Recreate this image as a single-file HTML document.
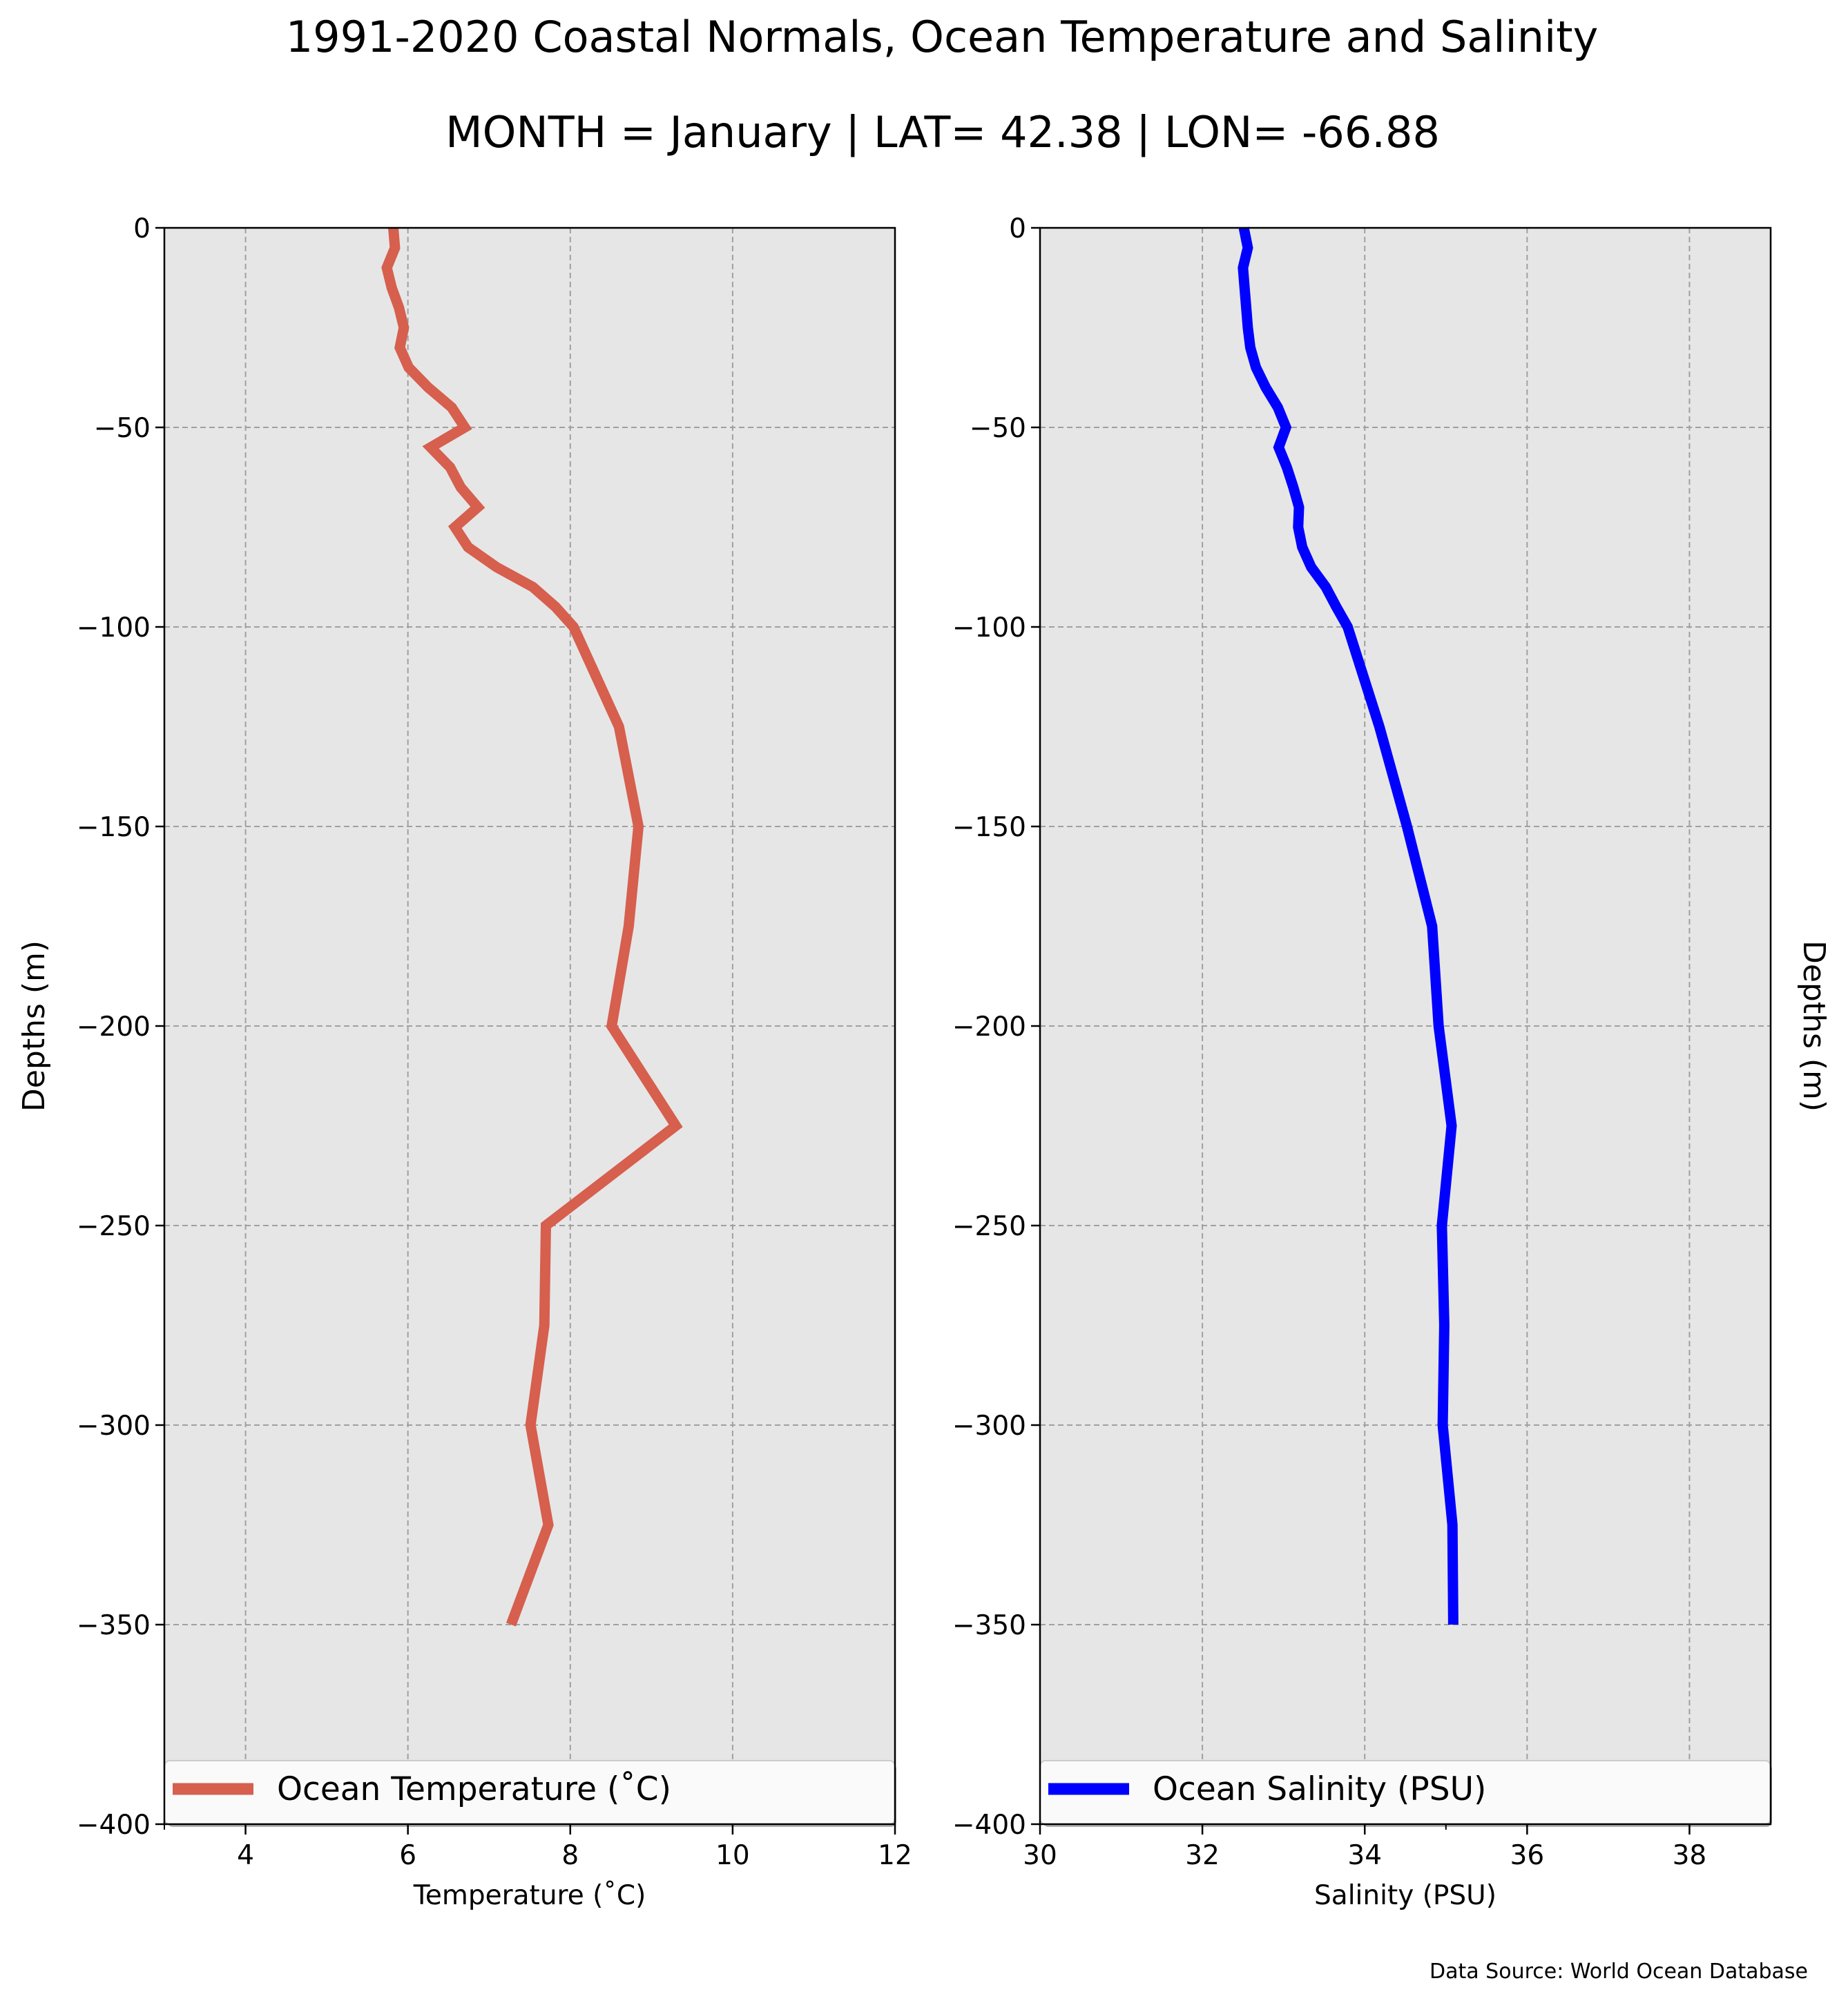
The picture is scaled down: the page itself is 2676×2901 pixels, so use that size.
<!DOCTYPE html>
<html><head><meta charset="utf-8"><style>
html,body{margin:0;padding:0;background:#fff;}
svg{display:block;font-family:"DejaVu Sans","Liberation Sans",sans-serif;}
</style></head>
<body>
<svg id="fig" width="2676" height="2901" viewBox="0 0 2676 2901" xmlns="http://www.w3.org/2000/svg">
<rect x="0" y="0" width="2676" height="2901" fill="#fff"/>
<text x="1364" y="75" font-size="62" text-anchor="middle">1991-2020 Coastal Normals, Ocean Temperature and Salinity</text>
<text x="1365" y="213" font-size="62" text-anchor="middle">MONTH = January | LAT= 42.38 | LON= -66.88</text>
<text transform="translate(64,1486) rotate(-90)" font-size="44" text-anchor="middle">Depths (m)</text>
<text transform="translate(2612,1486) rotate(90)" font-size="44" text-anchor="middle">Depths (m)</text>
<text x="2618" y="2865" font-size="30" text-anchor="end">Data Source: World Ocean Database</text>
<g id="left"></g>
<g id="right"></g>
</svg>
<script>
const depths = [0,5,10,15,20,25,30,35,40,45,50,55,60,65,70,75,80,85,90,95,100,125,150,175,200,225,250,275,300,325,350];
const temperature = [5.82,5.84,5.74,5.80,5.89,5.95,5.90,6.01,6.25,6.54,6.70,6.28,6.52,6.65,6.86,6.58,6.74,7.09,7.54,7.82,8.04,8.60,8.84,8.72,8.51,9.30,7.70,7.68,7.51,7.73,7.27];
const salinity = [32.51,32.56,32.50,32.52,32.54,32.56,32.59,32.66,32.78,32.93,33.03,32.94,33.04,33.12,33.19,33.18,33.23,33.34,33.52,33.65,33.79,34.18,34.52,34.83,34.91,35.07,34.95,34.98,34.96,35.08,35.09];
const depthTicks = [0,-50,-100,-150,-200,-250,-300,-350,-400];
const depthTickLabels = ["0","\u221250","\u2212100","\u2212150","\u2212200","\u2212250","\u2212300","\u2212350","\u2212400"];
const tempTicks = [4,6,8,10,12];
const tempMinorTicks = [3];
const salTicks = [30,32,34,36,38];
const salMinorTicks = [35];

const NS = "http://www.w3.org/2000/svg";
const TOP = 330, BOT = 2642, YMIN = -400, YMAX = 0;
function yScale(v){ return TOP + (YMAX - v) / (YMAX - YMIN) * (BOT - TOP); }
function mk(tag, attrs, parent){
  const e = document.createElementNS(NS, tag);
  for (const k in attrs) e.setAttribute(k, attrs[k]);
  parent.appendChild(e);
  return e;
}

function panel(g, L, R, xmin, xmax, ticks, minor, xs, color, xlabel, legendLabel, kind){
  const xScale = v => L + (v - xmin) / (xmax - xmin) * (R - L);
  const bg = mk('rect', {x:L, y:TOP, width:R-L, height:BOT-TOP, fill:'#e6e6e6'}, g);
  
  
  // grid
  depthTicks.forEach((d, i) => {
    const y = yScale(d);
    const gl = mk('line', {x1:L, x2:R, y1:y, y2:y, stroke:'#a0a0a0', 'stroke-width':2, 'stroke-dasharray':'8,5'}, g);
    
    
    const tk = mk('line', {x1:L-13, x2:L, y1:y, y2:y, stroke:'#000', 'stroke-width':2.5}, g);
    
    
    const tl = mk('text', {x:L-20, y:y+14, 'font-size':39, 'text-anchor':'end'}, g);
    
    
    tl.textContent = depthTickLabels[i];
  });
  ticks.forEach(t => {
    const x = xScale(t);
    const gl = mk('line', {x1:x, x2:x, y1:TOP, y2:BOT, stroke:'#a0a0a0', 'stroke-width':2, 'stroke-dasharray':'8,5'}, g);
    
    
  });
  // series
  const pts = xs.map((v, i) => xScale(v).toFixed(1) + ',' + yScale(-depths[i]).toFixed(1)).join(' ');
  const line = mk('polyline', {points:pts, fill:'none', stroke:color, 'stroke-width':15, 'stroke-linejoin':'miter', 'stroke-miterlimit':3}, g);
  
  
  // legend
  const lg = mk('g', {}, g);
  
  
  mk('rect', {x:L+4, y:2554, width:R-L-2, height:92, rx:8, fill:'#b0b0b0'}, lg);
  mk('rect', {x:L, y:2550, width:R-L, height:92, rx:8, fill:'#fafafa', stroke:'#cccccc', 'stroke-width':2}, lg);
  const ll = mk('line', {x1:L+12, x2:L+129, y1:2591, y2:2591, stroke:color, 'stroke-width':17}, lg);
  
  
  const lt = mk('text', {x:L+163, y:2607, 'font-size':47}, lg);
  
  
  lt.textContent = legendLabel;
  // spines
  const sp = mk('rect', {x:L, y:TOP, width:R-L, height:BOT-TOP, fill:'none', stroke:'#000', 'stroke-width':2.5}, g);
  
  
  ticks.forEach(t => {
    const x = xScale(t);
    const tk = mk('line', {x1:x, x2:x, y1:BOT, y2:BOT+15, stroke:'#000', 'stroke-width':2.5}, g);
    
    
    const tl = mk('text', {x:x, y:2700, 'font-size':39, 'text-anchor':'middle'}, g);
    
    
    tl.textContent = String(t);
  });
  minor.forEach(t => {
    const x = xScale(t);
    const tk = mk('line', {x1:x, x2:x, y1:BOT, y2:BOT+8, stroke:'#000', 'stroke-width':2}, g);
    
    
  });
  const xl = mk('text', {x:(L+R)/2, y:2758, 'font-size':39, 'text-anchor':'middle'}, g);
  
  
  xl.textContent = xlabel;
}

panel(document.getElementById('left'), 238, 1296, 3, 12, tempTicks, tempMinorTicks, temperature, '#d65f4e', 'Temperature (\u02daC)', 'Ocean Temperature (\u02daC)', 'temperature');
panel(document.getElementById('right'), 1506, 2564, 30, 39, salTicks, salMinorTicks, salinity, '#0000ff', 'Salinity (PSU)', 'Ocean Salinity (PSU)', 'salinity');
</script>
</body></html>
